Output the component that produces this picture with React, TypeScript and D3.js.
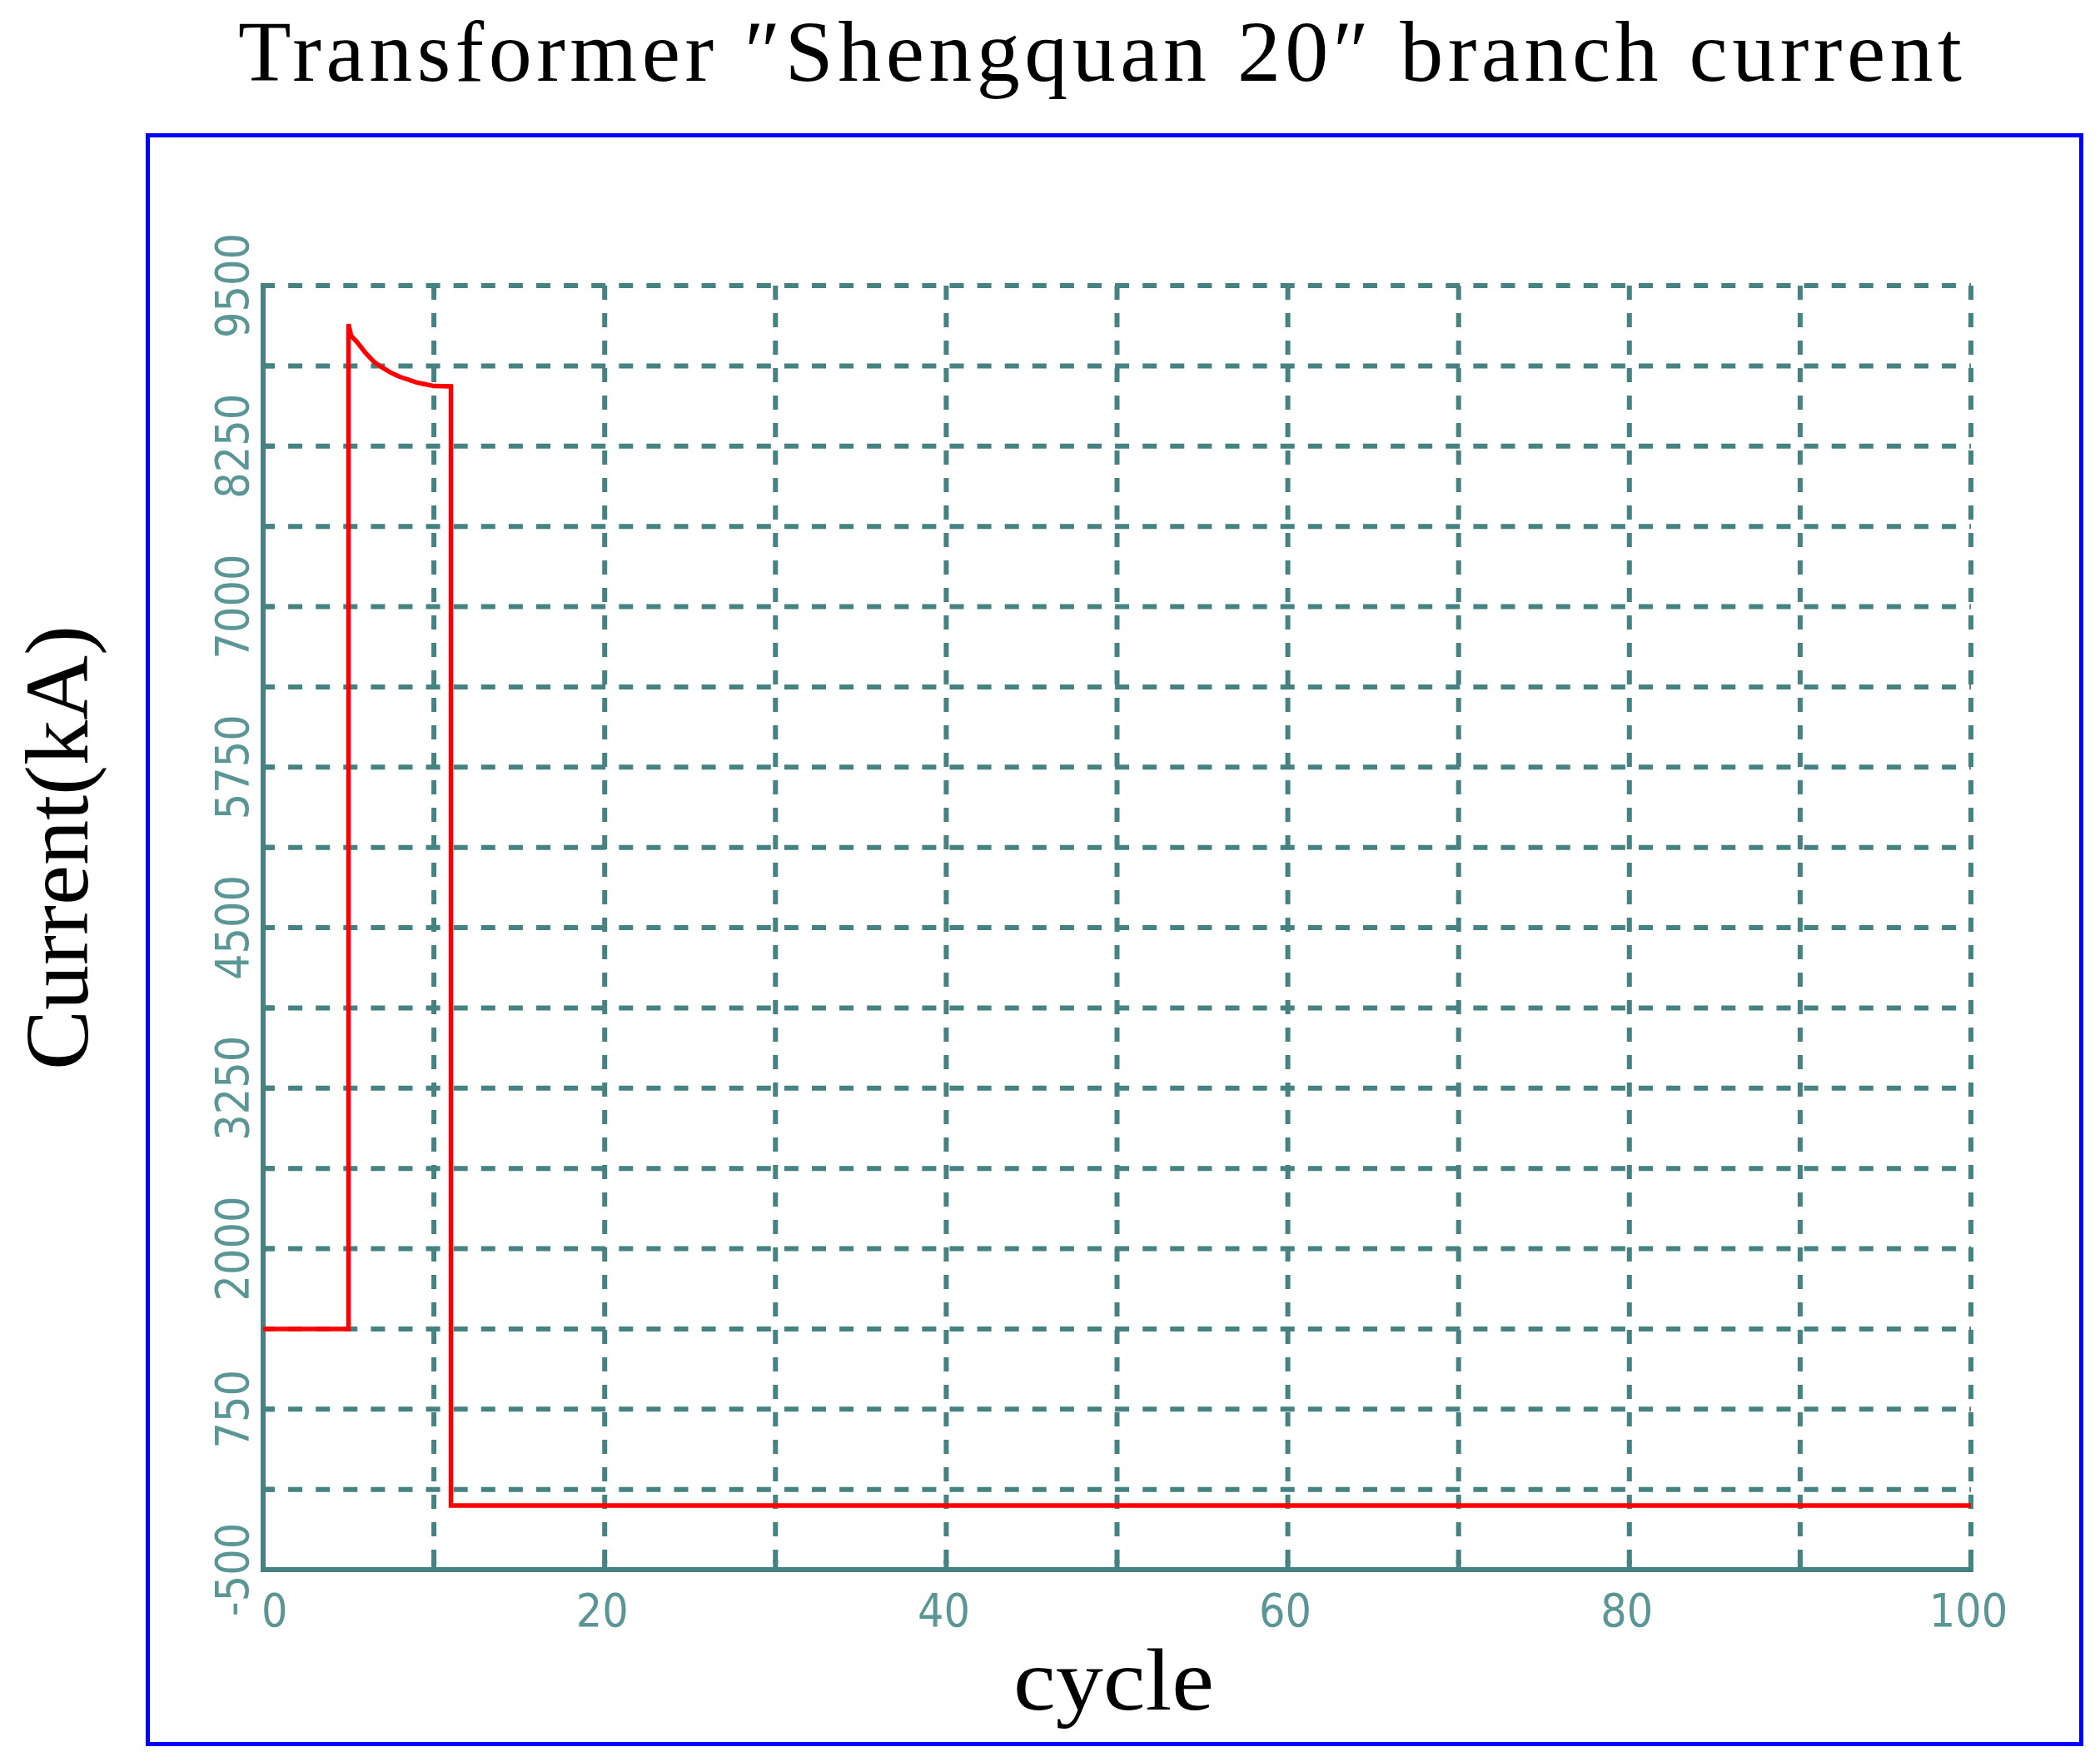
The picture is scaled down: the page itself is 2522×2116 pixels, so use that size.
import React from "react";
import * as d3 from "d3";

// ---- data ----
const cycles = [0, 5, 5, 5.15, 5.5, 6, 6.5, 7, 7.5, 8, 9, 10, 11, 11, 100];
const current = [1375, 1375, 9200, 9110, 9060, 8975, 8905, 8860, 8820, 8790, 8745, 8718, 8716, 0, 0];

const yTickLabels = [-500, 750, 2000, 3250, 4500, 5750, 7000, 8250, 9500];
const yGridValues = d3.range(-500, 9501, 625);
const xGridValues = d3.range(0, 101, 10);
const xTickLabels = [0, 20, 40, 60, 80, 100];

const titleText = "Transformer \u2033Shengquan 20\u2033 branch current";
const xLabelText = "cycle";
const yLabelText = "Current(kA)";

export default function App() {
  const W = 2522;
  const H = 2116;
  const left = 316;
  const right = 2367;
  const top = 343;
  const bottom = 1885;

  const x = d3.scaleLinear().domain([0, 100]).range([left, right]);
  const y = d3.scaleLinear().domain([-500, 9500]).range([bottom, top]);

  const pts: [number, number][] = cycles.map((c, i) => [c, current[i]]);
  const line = d3
    .line<[number, number]>()
    .x((d) => x(d[0]))
    .y((d) => y(d[1]));

  const teal = "#468282";
  const labelColor = "#5b9696";
  const serif = "'Liberation Serif', 'Times New Roman', serif";
  const tickFont = "'DejaVu Sans Condensed', 'DejaVu Sans', sans-serif";
  const gw = 6;

  return (
    <svg
      width={W}
      height={H}
      viewBox={`0 0 ${W} ${H}`}
      style={{ position: "absolute", left: 0, top: 0, background: "#ffffff" }}
    >
      <rect x={0} y={0} width={W} height={H} fill="#ffffff" />

      {/* title */}
      <text
        x={286}
        y={97}
        fontFamily={serif}
        fontSize={104}
        textLength={2070}
        lengthAdjust="spacing"
        fill="#000"
      >
        {titleText}
      </text>

      {/* blue frame */}
      <rect x={177.5} y={162.5} width={2322} height={1932} fill="none" stroke="#0000ff" strokeWidth={5} />

      {/* horizontal dashed grid */}
      {yGridValues
        .filter((v) => v !== -500)
        .map((v) => (
          <line
            key={"hg" + v}
            x1={left - 3}
            x2={right}
            y1={y(v)}
            y2={y(v)}
            stroke={teal}
            strokeWidth={gw}
            strokeDasharray="17 16.1"
          />
        ))}

      {/* vertical dashed grid */}
      {xGridValues
        .filter((v) => v !== 0)
        .map((v) => (
          <line
            key={"vg" + v}
            x1={x(v)}
            x2={x(v)}
            y1={top}
            y2={bottom}
            stroke={teal}
            strokeWidth={gw}
            strokeDasharray="17 16"
          />
        ))}

      {/* axis ticks */}
      {yGridValues.map((v) => (
        <line key={"yt" + v} x1={left} x2={left + 13} y1={y(v)} y2={y(v)} stroke={teal} strokeWidth={gw} />
      ))}
      {xGridValues.map((v) => (
        <line key={"xt" + v} x1={x(v)} x2={x(v)} y1={bottom} y2={bottom - 12} stroke={teal} strokeWidth={gw} />
      ))}

      {/* axes */}
      <line x1={left} x2={left} y1={top - 3} y2={bottom + 3} stroke={teal} strokeWidth={gw} />
      <line x1={left - 3} x2={right + 3} y1={bottom} y2={bottom} stroke={teal} strokeWidth={gw} />

      {/* y tick labels */}
      {yTickLabels.map((v) => (
        <text
          key={"yl" + v}
          transform={`translate(298, ${y(v)}) rotate(-90)`}
          textAnchor="middle"
          fontFamily={tickFont}
          fontStretch="condensed"
          fontSize={55}
          fill={labelColor}
        >
          {v}
        </text>
      ))}

      {/* x tick labels */}
      {xTickLabels.map((v) => (
        <text
          key={"xl" + v}
          x={v === 0 ? x(v) - 2 : x(v) - 3}
          y={1953}
          textAnchor={v === 0 ? "start" : "middle"}
          fontFamily={tickFont}
          fontStretch="condensed"
          fontSize={55}
          fill={labelColor}
        >
          {v}
        </text>
      ))}

      {/* data line */}
      <path d={line(pts) || ""} fill="none" stroke="#ff0000" strokeWidth={5.5} strokeLinejoin="miter" />

      {/* axis titles */}
      <text
        x={1337.5}
        y={2053}
        fontFamily={serif}
        fontSize={105}
        textAnchor="middle"
        textLength={241}
        lengthAdjust="spacingAndGlyphs"
        fill="#000"
      >
        {xLabelText}
      </text>
      <text
        transform="translate(105, 1018) rotate(-90)"
        x={0}
        y={0}
        fontFamily={serif}
        fontSize={107}
        textAnchor="middle"
        textLength={534}
        lengthAdjust="spacingAndGlyphs"
        fill="#000"
      >
        {yLabelText}
      </text>
    </svg>
  );
}
